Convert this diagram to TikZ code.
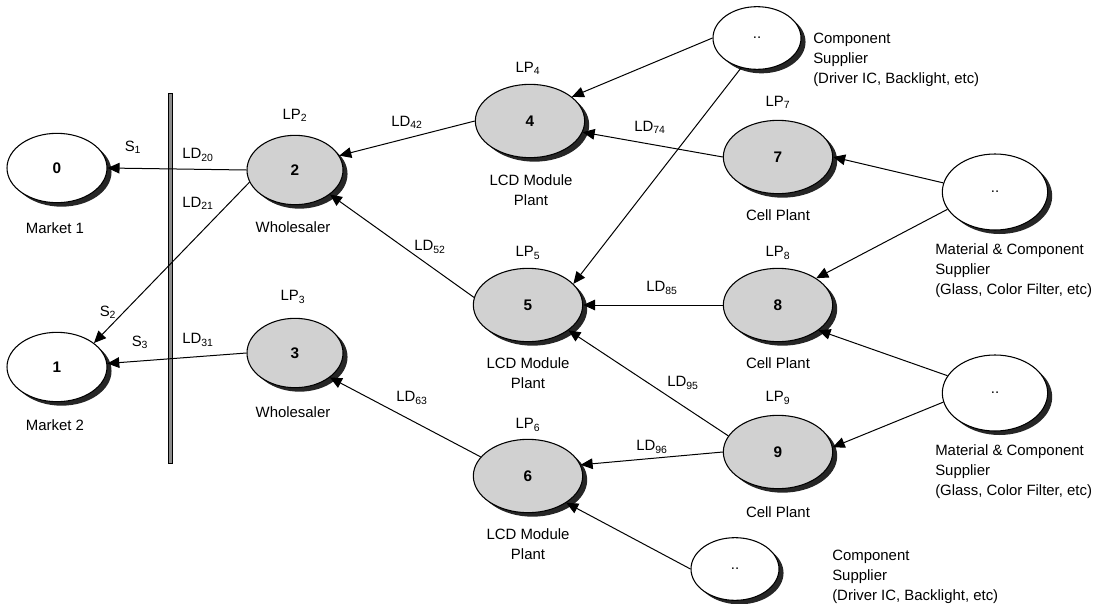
\documentclass[tikz,border=0pt]{standalone}
\usepackage{fontspec}
\setmainfont{Liberation Sans}
\usetikzlibrary{arrows.meta,shapes.geometric,shadows}
\begin{document}
\begin{tikzpicture}[x=0.75pt,y=-0.75pt,
  font=\fontsize{11.2}{15}\selectfont,
  site/.style={ellipse,draw=black,line width=0.8pt,inner sep=0pt,
    drop shadow={shadow xshift=3.4pt,shadow yshift=-3pt,fill=black!85,opacity=1}},
  market/.style={site,fill=white,minimum width=75pt,minimum height=52pt,font=\fontsize{11.5}{14}\selectfont\bfseries},
  whole/.style={site,fill=black!18,minimum width=72pt,minimum height=52pt,font=\fontsize{11.5}{14}\selectfont\bfseries},
  plant/.style={site,fill=black!18,minimum width=82pt,minimum height=55pt,font=\fontsize{11.5}{14}\selectfont\bfseries},
  smallsup/.style={site,fill=white,minimum width=66pt,minimum height=47pt},
  bigsup/.style={site,fill=white,minimum width=79pt,minimum height=57pt},
  caption/.style={inner sep=0pt,align=center},
  note/.style={inner sep=0pt,align=left,anchor=west},
  flow/.style={draw=black,line width=0.75pt,-{Triangle[length=9pt,width=8pt]}},
  lbl/.style={inner sep=0pt}]
\useasboundingbox (0,0) rectangle (1108,604);

% border between markets and the supply chain
\draw[line width=0.7pt,fill=black!45] (168,93) rectangle (172.5,463);

% markets
\node[market] (n0) at (57,168) {0};
\node[market] (n1) at (57,367) {1};
\node[caption] (c0) at (55,228) {Market 1};
\node[caption] (c1) at (55,425) {Market 2};

% wholesalers
\node[whole] (n2) at (295,170) {2};
\node[whole] (n3) at (295,353) {3};
\node[caption] (p2) at (295,115) {LP\textsubscript{2}};
\node[caption] (p3) at (293,297) {LP\textsubscript{3}};
\node[caption] (c2) at (293,227) {Wholesaler};
\node[caption] (c3) at (293,412) {Wholesaler};

% LCD module plants
\node[plant] (n4) at (530,121) {4};
\node[plant] (n5) at (528,305) {5};
\node[plant] (n6) at (528,476) {6};
\node[caption] (p4) at (528,68) {LP\textsubscript{4}};
\node[caption] (p5) at (528,253) {LP\textsubscript{5}};
\node[caption] (p6) at (528,425) {LP\textsubscript{6}};
\node[caption] (c4) at (531,190) {LCD Module\\Plant};
\node[caption] (c5) at (528,373) {LCD Module\\Plant};
\node[caption] (c6) at (528,544) {LCD Module\\Plant};

% cell plants
\node[plant] (n7) at (778,157) {7};
\node[plant] (n8) at (778,305) {8};
\node[plant] (n9) at (778,452) {9};
\node[caption] (p7) at (778,102) {LP\textsubscript{7}};
\node[caption] (p8) at (778,253) {LP\textsubscript{8}};
\node[caption] (p9) at (778,398) {LP\textsubscript{9}};
\node[caption] (c7) at (778,215) {Cell Plant};
\node[caption] (c8) at (778,363) {Cell Plant};
\node[caption] (c9) at (778,512) {Cell Plant};

% suppliers
\node[smallsup] (ts) at (757,38) {..};
\node[bigsup] (m1) at (995,192) {..};
\node[bigsup] (m2) at (995,393) {..};
\node[smallsup] (bs) at (735,569) {..};
\node[note] (tst) at (813,60) {Component\\Supplier\\(Driver IC, Backlight, etc)};
\node[note] (m1t) at (935,271) {Material \& Component\\Supplier\\(Glass, Color Filter, etc)};
\node[note] (m2t) at (935,472) {Material \& Component\\Supplier\\(Glass, Color Filter, etc)};
\node[note] (bst) at (832,577) {Component\\Supplier\\(Driver IC, Backlight, etc)};

% flows
\draw[flow] (n2.west) -- (n0.east);
\draw[flow] (n2.195) -- (n1.33);
\draw[flow] (n3.west) -- (n1.4);
\draw[flow] (n4.west) -- (n2.18);
\draw[flow] (n5.172) -- (n2.-35);
\draw[flow] (n6.158) -- (n3.-35);
\draw[flow] (n7.west) -- (n4.-12);
\draw[flow] (ts.west) -- (n4.30);
\draw[flow] (ts.242) -- (n5.25);
\draw[flow] (n8.west) -- (n5.east);
\draw[flow] (n9.162) -- (n5.-32);
\draw[flow] (n9.west) -- (n6.12);
\draw[flow] (bs.west) -- (n6.-35);
\draw[flow] (m1.170) -- (n7.0);
\draw[flow] (m1.200) -- (n8.35);
\draw[flow] (m2.160) -- (n8.-32);
\draw[flow] (m2.190) -- (n9.5);

% flow labels
\node[lbl] (s1) at (133,147) {S\textsubscript{1}};
\node[lbl] (s2) at (108,312) {S\textsubscript{2}};
\node[lbl] (s3) at (140,342) {S\textsubscript{3}};
\node[lbl] (l20) at (198,155) {LD\textsubscript{20}};
\node[lbl] (l21) at (198,203) {LD\textsubscript{21}};
\node[lbl] (l31) at (198,340) {LD\textsubscript{31}};
\node[lbl] (l42) at (407,122) {LD\textsubscript{42}};
\node[lbl] (l52) at (430,247) {LD\textsubscript{52}};
\node[lbl] (l63) at (412,398) {LD\textsubscript{63}};
\node[lbl] (l74) at (650,127) {LD\textsubscript{74}};
\node[lbl] (l85) at (662,288) {LD\textsubscript{85}};
\node[lbl] (l95) at (683,383) {LD\textsubscript{95}};
\node[lbl] (l96) at (652,447) {LD\textsubscript{96}};
\end{tikzpicture}
\end{document}
